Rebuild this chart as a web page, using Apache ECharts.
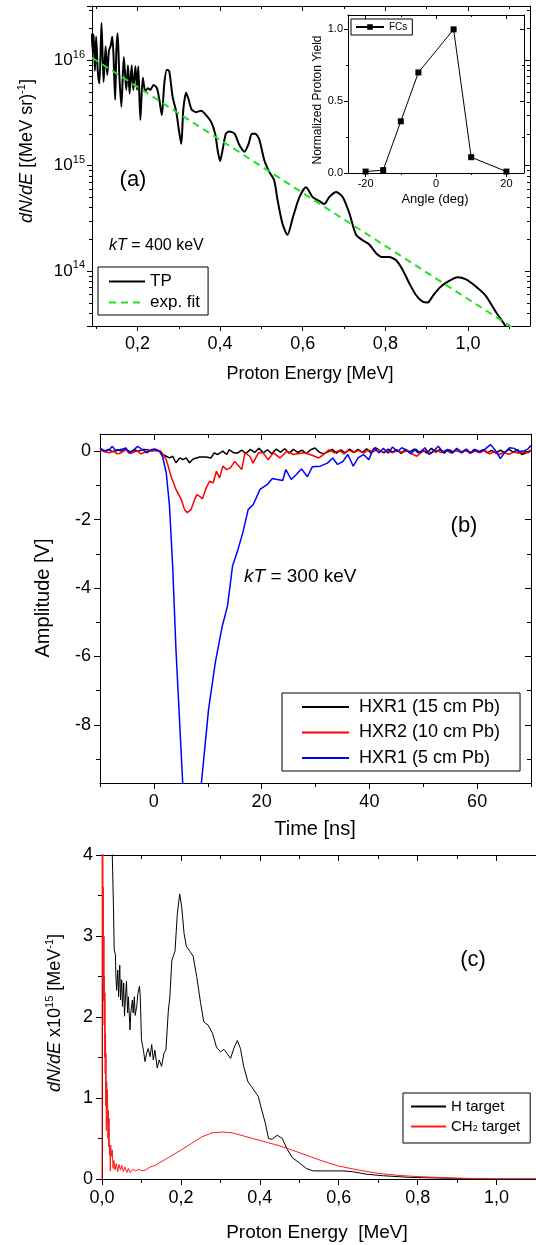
<!DOCTYPE html>
<html>
<head>
<meta charset="utf-8">
<script src="https://cdn.jsdelivr.net/npm/echarts@6/dist/echarts.min.js"></script>
<style>
html, body { margin: 0; padding: 0; background: #fff; }
#chart { width: 536px; height: 1245px; }
</style>
</head>
<body>
<div id="chart"></div>
<script>
// ---- panel (a): proton spectrum, log scale ----
var tpSpectrum = [
  [0.089,1.78e16],[0.092,1.17e16],[0.094,1.74e16],[0.097,7.9e15],[0.100,1.66e16],[0.104,7.8e15],
  [0.108,6.0e15],[0.113,2.24e16],[0.118,6.2e15],[0.123,1.35e16],[0.127,7.2e15],[0.131,1.23e16],
  [0.135,1.35e16],[0.139,1.66e16],[0.142,1.12e16],[0.146,4.2e15],[0.149,1.23e16],[0.152,1.78e16],
  [0.156,7.4e15],[0.161,3.6e15],[0.167,1.07e16],[0.173,5.2e15],[0.177,8.9e15],[0.181,4.8e15],
  [0.186,8.9e15],[0.190,5.2e15],[0.195,8.7e15],[0.199,5.2e15],[0.202,8.7e15],[0.207,2.7e15],
  [0.213,6.8e15],[0.219,5.0e15],[0.225,5.4e15],[0.231,5.2e15],[0.239,5.8e15],[0.247,5.4e15],
  [0.253,4.2e15],[0.259,3.0e15],[0.265,6.0e15],[0.271,8.1e15],[0.277,7.8e15],[0.285,4.5e15],
  [0.294,3.2e15],[0.300,2.2e15],[0.306,1.6e15],[0.311,3.4e15],[0.318,4.9e15],[0.324,4.2e15],
  [0.331,3.4e15],[0.342,3.2e15],[0.354,3.3e15],[0.366,3.0e15],[0.378,2.6e15],[0.388,2.0e15],
  [0.394,1.4e15],[0.400,1.1e15],[0.406,1.4e15],[0.414,2.0e15],[0.422,2.1e15],[0.435,2.0e15],
  [0.447,1.55e15],[0.459,1.35e15],[0.469,1.6e15],[0.477,2.0e15],[0.485,2.0e15],[0.495,1.75e15],
  [0.507,1.12e15],[0.519,8.7e14],[0.531,7.2e14],[0.539,4.7e14],[0.551,2.8e14],[0.563,2.2e14],
  [0.576,3.2e14],[0.592,5.0e14],[0.608,6.2e14],[0.624,5.0e14],[0.640,4.6e14],[0.652,4.3e14],
  [0.664,5.0e14],[0.681,5.6e14],[0.697,5.0e14],[0.713,3.5e14],[0.729,2.2e14],[0.745,1.95e14],
  [0.761,1.78e14],[0.777,1.48e14],[0.793,1.35e14],[0.809,1.35e14],[0.826,1.26e14],[0.842,1.02e14],
  [0.858,7.6e13],[0.874,5.9e13],[0.890,5.1e13],[0.902,5.0e13],[0.915,5.8e13],[0.931,6.9e13],
  [0.951,7.9e13],[0.975,8.7e13],[0.995,8.3e13],[1.019,7.1e13],[1.043,5.8e13],[1.067,4.1e13],
  [1.092,2.95e13],[1.110,2.2e13]
];
var expFit = [[0.09, 1.05e16], [1.12, 2.7e13]];

// inset: Faraday cups
var fcAngle = [-20, -15, -10, -5, 5, 10, 20];
var fcYield = [0.01, 0.02, 0.36, 0.70, 1.00, 0.11, 0.01];

// ---- panel (b): HXR signals ----
var hxr15 = [
  [-10,0.06],[-9.2,0.0],[-8.4,0.05],[-7.6,-0.02],[-6.8,0.04],[-6.0,0.0],[-5.2,0.05],[-4.4,-0.02],
  [-3.6,0.03],[-2.8,0.0],[-2.0,0.05],[-1.2,0.04],[-0.4,0.0],[0.4,0.05],[1.0,0.0],[1.6,-0.1],
  [2.3,-0.15],[2.9,-0.2],[3.5,-0.15],[4.1,-0.34],[4.8,-0.2],[5.4,-0.25],[6.0,-0.2],[6.6,-0.34],
  [7.3,-0.23],[7.9,-0.2],[8.5,-0.17],[9.7,-0.17],[10.6,-0.2],[11.2,-0.05],[11.8,-0.1],[12.8,0.0],
  [13.5,-0.1],[14.0,0.04],[14.7,-0.04],[15.5,-0.06],[16.3,0.03],[17.1,-0.07],[17.9,0.05],[18.7,-0.04],
  [19.5,0.08],[20.3,-0.05],[21.1,0.04],[21.9,-0.08],[22.7,0.06],[23.5,-0.03],[24.3,0.07],[25.1,-0.06],
  [25.9,0.05],[26.7,-0.04],[27.5,0.03],[28.3,-0.07],[29.1,0.04],[29.9,0.09],[30.7,-0.03],[31.5,-0.08],
  [32.3,-0.02],[33.1,0.05],[33.9,-0.06],[34.7,0.04],[35.5,-0.05],[36.3,0.06],[37.1,-0.03],[37.9,0.05],
  [38.7,-0.04],[39.5,0.07],[40.3,-0.06],[41.1,0.1],[41.9,0.02],[42.7,-0.05],[43.5,0.06],[44.3,-0.03],
  [45.1,0.04],[45.9,-0.07],[46.7,0.05],[47.5,-0.02],[48.3,0.06],[49.1,-0.05],[49.9,0.03],[50.7,-0.06],
  [51.5,0.08],[52.3,-0.03],[53.1,0.05],[53.9,-0.06],[54.7,0.04],[55.5,-0.02],[56.3,0.06],[57.1,-0.05],
  [57.9,0.03],[58.7,-0.06],[59.5,0.05],[60.3,-0.03],[61.1,0.04],[61.9,-0.05],[62.7,0.02],[63.5,-0.06],
  [64.3,0.03],[65.1,-0.04],[65.9,0.05],[66.7,-0.03],[67.5,0.04],[68.3,-0.1],[69.1,-0.05],[70,0.03]
];
var hxr10 = [
  [-10,0.04],[-9.2,-0.02],[-8.3,-0.05],[-7.4,0.0],[-6.9,-0.08],[-6.4,-0.07],[-5.8,-0.02],[-5.2,0.04],
  [-4.7,-0.04],[-4.3,-0.07],[-3.6,-0.02],[-3.0,0.0],[-2.4,-0.08],[-1.9,-0.05],[-1.0,0.0],[-0.3,0.02],
  [0.6,0.0],[1.3,0.0],[2.3,-0.25],[3.2,-0.74],[4.1,-1.12],[5.1,-1.42],[5.7,-1.71],[6.2,-1.80],
  [6.9,-1.71],[7.55,-1.42],[8.0,-1.27],[8.5,-1.32],[9.0,-1.40],[9.7,-1.08],[10.35,-0.88],[11.0,-0.93],
  [11.6,-0.59],[12.2,-0.78],[12.8,-0.44],[13.5,-0.54],[14.2,-0.49],[15.0,-0.30],[16.3,-0.54],[16.9,-0.05],
  [17.8,-0.15],[18.4,-0.35],[19.4,-0.05],[20.3,-0.05],[21.2,-0.25],[22.2,-0.05],[23.4,-0.2],[24.7,0.0],
  [25.9,-0.1],[27.8,-0.05],[29.0,-0.1],[30.6,-0.2],[31.5,-0.1],[32.5,0.04],[33.5,-0.05],[34.4,0.02],
  [35.3,-0.08],[36.2,0.03],[37.1,-0.04],[38.0,0.02],[38.9,-0.06],[39.8,0.03],[40.7,-0.02],[41.6,0.05],
  [42.5,-0.03],[43.4,0.01],[44.3,-0.05],[45.2,0.02],[46.1,-0.04],[47.0,0.01],[47.9,-0.08],[48.8,-0.15],
  [49.7,-0.03],[50.6,0.02],[51.5,-0.06],[52.4,0.03],[53.3,-0.04],[54.2,0.02],[55.1,-0.05],[56.0,0.01],
  [56.9,-0.03],[57.8,0.02],[58.7,-0.06],[59.6,0.0],[60.5,-0.05],[61.4,0.03],[62.3,-0.08],[63.2,-0.02],
  [64.1,-0.1],[65.0,-0.04],[65.9,-0.09],[66.8,-0.03],[67.7,-0.06],[68.6,-0.02],[69.5,-0.05],[70,0.02]
];
var hxr5 = [
  [-10,0.09],[-9.5,0.04],[-8.9,0.0],[-8.3,0.04],[-7.7,0.14],[-7.05,0.0],[-6.4,0.04],[-5.8,0.06],
  [-5.2,0.09],[-4.6,-0.05],[-4.0,0.0],[-3.0,0.14],[-2.1,0.04],[-1.3,-0.05],[-0.5,0.04],[0.1,0.06],
  [1.0,0.0],[1.6,-0.15],[2.3,-0.64],[2.9,-1.6],[3.5,-3.4],[4.1,-5.8],[5.35,-9.7],[6.9,-14.0],
  [8.86,-9.64],[10.15,-7.55],[11.4,-6.18],[12.7,-5.11],[13.66,-4.53],[14.6,-3.36],[15.6,-2.88],[16.5,-2.39],
  [17.5,-1.71],[18.45,-1.56],[19.7,-1.12],[21.0,-0.98],[22.0,-0.80],[22.9,-0.83],[23.9,-0.86],[24.5,-0.54],
  [25.5,-0.83],[26.4,-0.69],[27.4,-0.52],[28.5,-0.75],[29.4,-0.46],[30.9,-0.44],[32.2,-0.35],[33.2,-0.20],
  [34.1,-0.39],[35.1,-0.30],[36.0,-0.10],[37.0,-0.44],[37.9,-0.20],[38.9,-0.10],[39.9,-0.25],[40.8,0.09],
  [41.8,-0.05],[42.6,0.08],[43.5,-0.06],[44.3,0.12],[45.2,-0.02],[46.0,0.1],[46.9,0.02],[47.7,-0.08],
  [48.6,0.06],[49.4,-0.05],[50.3,0.1],[51.1,-0.1],[52.0,0.02],[52.8,0.14],[53.7,-0.04],[54.5,0.05],
  [55.4,-0.06],[56.2,0.08],[57.1,-0.03],[58.0,0.06],[58.8,-0.05],[59.7,0.04],[60.5,-0.02],[61.4,0.05],
  [62.5,0.19],[63.4,0.02],[64.3,-0.22],[65.1,-0.05],[66.0,0.1],[66.9,0.08],[67.7,-0.02],[68.6,0.0],
  [69.4,0.06],[70,0.16]
];

// ---- panel (c): spectra for two targets ----
var hTarget = [
  [0.025,4.6],[0.026,4.0],[0.027,3.81],[0.029,3.36],[0.031,2.83],[0.034,2.77],[0.035,2.54],[0.037,2.33],
  [0.040,2.58],[0.042,2.25],[0.045,2.64],[0.047,2.21],[0.050,2.46],[0.052,2.13],[0.055,2.42],[0.057,2.01],
  [0.060,2.29],[0.062,2.44],[0.065,2.05],[0.067,2.25],[0.071,1.84],[0.073,2.05],[0.077,2.21],[0.079,2.05],
  [0.082,2.25],[0.084,2.02],[0.088,2.13],[0.091,2.29],[0.095,2.38],[0.097,2.25],[0.100,1.72],[0.105,1.59],
  [0.109,1.45],[0.113,1.55],[0.117,1.61],[0.122,1.51],[0.126,1.66],[0.130,1.47],[0.134,1.59],[0.140,1.37],
  [0.145,1.47],[0.151,1.39],[0.157,1.55],[0.162,1.59],[0.168,2.07],[0.172,2.25],[0.177,2.70],[0.185,2.81],
  [0.191,3.28],[0.197,3.52],[0.202,3.36],[0.208,3.03],[0.214,2.87],[0.223,2.81],[0.231,2.75],[0.240,2.50],
  [0.250,2.17],[0.258,1.94],[0.269,1.90],[0.280,1.80],[0.290,1.63],[0.300,1.57],[0.309,1.60],[0.317,1.55],
  [0.326,1.49],[0.334,1.61],[0.343,1.71],[0.351,1.61],[0.359,1.39],[0.370,1.20],[0.379,1.14],[0.383,1.12],
  [0.396,1.02],[0.405,0.85],[0.414,0.69],[0.422,0.50],[0.431,0.49],[0.444,0.54],[0.457,0.50],[0.470,0.36],
  [0.483,0.26],[0.500,0.20],[0.518,0.13],[0.535,0.10],[0.565,0.10],[0.609,0.10],[0.635,0.09],[0.669,0.06],
  [0.713,0.04],[0.782,0.02],[0.869,0.01],[1.0,0.0],[1.1,0.0]
];
var ch2Target = [
  [0,0],[0.0005,4.6],[0.0015,3.0],[0.002,4.2],[0.003,2.4],[0.0035,3.6],[0.004,2.2],[0.005,3.0],
  [0.0055,1.9],[0.006,2.5],[0.007,1.5],[0.0075,2.3],[0.008,1.3],[0.009,1.8],[0.0095,0.9],[0.010,1.55],
  [0.011,0.6],[0.012,1.2],[0.013,0.7],[0.014,1.1],[0.015,0.5],[0.016,0.85],[0.017,0.4],[0.018,0.75],
  [0.019,0.3],[0.020,0.4],[0.021,0.1],[0.022,0.42],[0.024,0.28],[0.026,0.36],[0.028,0.13],[0.030,0.23],
  [0.033,0.11],[0.036,0.19],[0.040,0.09],[0.043,0.18],[0.047,0.11],[0.050,0.17],[0.054,0.09],[0.058,0.15],
  [0.063,0.08],[0.067,0.13],[0.071,0.08],[0.078,0.12],[0.085,0.10],[0.093,0.12],[0.102,0.10],[0.110,0.11],
  [0.123,0.15],[0.136,0.17],[0.149,0.21],[0.167,0.26],[0.184,0.31],[0.201,0.36],[0.227,0.44],[0.253,0.52],
  [0.279,0.57],[0.305,0.58],[0.33,0.57],[0.36,0.53],[0.39,0.49],[0.42,0.45],[0.45,0.41],[0.48,0.36],
  [0.52,0.29],[0.56,0.22],[0.60,0.16],[0.65,0.11],[0.70,0.07],[0.75,0.045],[0.80,0.03],[0.90,0.01],
  [1.0,0.0],[1.1,0.0]
];

// ---- tick positions ----
var aMajorX = [0.2, 0.4, 0.6, 0.8, 1.0];
var aMinorX = [0.1, 0.3, 0.5, 0.7, 0.9, 1.1];
var aMinorY = [4e13,5e13,6e13,7e13,8e13,9e13,2e14,3e14,4e14,5e14,6e14,7e14,8e14,9e14,
               2e15,3e15,4e15,5e15,6e15,7e15,8e15,9e15,2e16,3e16];
var inMajorX = [-20, 0, 20], inMinorX = [-10, 10];
var inMajorY = [0, 0.5, 1.0], inMinorY = [0.25, 0.75];
var bMajorX = [0, 20, 40, 60], bMinorX = [-10, 10, 30, 50, 70];
var bMajorY = [0, -2, -4, -6, -8], bMinorY = [-1, -3, -5, -7, -9];
var cMajorX = [0, 0.2, 0.4, 0.6, 0.8, 1.0], cMinorX = [0.1, 0.3, 0.5, 0.7, 0.9];
var cMajorY = [0, 1, 2, 3, 4], cMinorY = [0.5, 1.5, 2.5, 3.5];

var FONT = '"Liberation Sans", Arial, Helvetica, sans-serif';

var grids = [
  {left: 92, top: 6, width: 438, height: 320},     // (a)
  {left: 348, top: 15, width: 176, height: 158},   // inset
  {left: 100, top: 434, width: 431, height: 349},  // (b)
  {left: 102, top: 855, width: 434, height: 324}   // (c)
];
grids.forEach(function (g) { g.outerBoundsMode = 'none'; g.containLabel = false; });

var xAxes = [], yAxes = [];

// builds a closed frame: main axis with labels + minor, mirrored axis with inner ticks
function frame(list, dim, gi, type, min, max, major, minor, label, len, noMirror) {
  var near = dim === 'x' ? 'bottom' : 'left';
  var far = dim === 'x' ? 'top' : 'right';
  function ax(pos, showLine, ticks, tlen, inside, lab) {
    var a = {
      type: type, gridIndex: gi, position: pos, min: min, max: max,
      splitLine: {show: false},
      axisLine: {show: showLine, onZero: false, lineStyle: {color: '#000', width: 1}},
      axisTick: {show: true, inside: inside, length: tlen, lineStyle: {color: '#000', width: 1}},
      axisLabel: lab || {show: false}
    };
    if (ticks) a.axisTick.customValues = ticks;
    if (type === 'log') a.logBase = 10;
    return a;
  }
  var first = list.length;
  list.push(ax(near, true, major, len, false, label));
  if (!noMirror) list.push(ax(far, true, major, len, true, null));
  if (minor) {
    list.push(ax(near, false, minor, Math.round(len * 0.6), false, null));
    if (!noMirror) list.push(ax(far, false, minor, Math.round(len * 0.6), true, null));
  }
  return first;
}

function lab(values, fmt, size, margin) {
  var o = {show: true, formatter: fmt, fontSize: size, color: '#000', fontFamily: FONT, margin: margin};
  if (values) o.customValues = values;
  return o;
}
function comma(v) { return v.toFixed(1).replace('.', ','); }
function dot(v) { return v.toFixed(1); }
function plain(v) { return String(v); }
function pow10(v) {
  var e = Math.round(Math.log(v) / Math.LN10);
  if (Math.abs(Math.log(v) / Math.LN10 - e) > 1e-6) return '';
  return '{b|10}{s|' + e + '}';
}

var axA_x = frame(xAxes, 'x', 0, 'value', 0.09, 1.15, aMajorX, aMinorX, lab(aMajorX, comma, 18, 9), 5);
var logLab = lab(null, pow10, 17, 7);
logLab.rich = {
  b: {fontSize: 17, fontFamily: FONT, color: '#000', lineHeight: 22},
  s: {fontSize: 11, fontFamily: FONT, color: '#000', verticalAlign: 'top', lineHeight: 12}
};
var axA_y = frame(yAxes, 'y', 0, 'log', 3e13, 3.25e16, null, null, logLab, 5);
var axI_x = frame(xAxes, 'x', 1, 'value', -25, 25, inMajorX, inMinorX, lab(inMajorX, plain, 11, 5), 4);
var axI_y = frame(yAxes, 'y', 1, 'value', 0, 1.1, inMajorY, inMinorY, lab(inMajorY, dot, 11, 5), 4);
var axB_x = frame(xAxes, 'x', 2, 'value', -10, 70, bMajorX, bMinorX, lab(bMajorX, plain, 18, 10), 6);
var axB_y = frame(yAxes, 'y', 2, 'value', -9.7, 0.5, bMajorY, bMinorY, lab(bMajorY, plain, 18, 9), 6);
var axC_x = frame(xAxes, 'x', 3, 'value', 0, 1.1, cMajorX, cMinorX, lab(cMajorX, comma, 18, 10), 6);
// right edge of panel (c) lies outside the picture, so no mirrored right axis
var axC_y = frame(yAxes, 'y', 3, 'value', 0, 4, cMajorY, cMinorY, lab(cMajorY, plain, 18, 9), 6, true);

function lineSeries(name, data, xi, yi, color, width, extra) {
  var s = {
    name: name, type: 'line', data: data, xAxisIndex: xi, yAxisIndex: yi,
    symbol: 'none', showSymbol: false, clip: true, silent: true,
    lineStyle: {color: color, width: width}, itemStyle: {color: color},
    emphasis: {disabled: true}
  };
  if (extra) Object.keys(extra).forEach(function (k) { s[k] = extra[k]; });
  return s;
}

var series = [
  lineSeries('TP', tpSpectrum, axA_x, axA_y, '#000', 2, {smooth: 0.25}),
  lineSeries('exp. fit', expFit, axA_x, axA_y, '#22e022', 2),
  lineSeries('FCs', fcAngle.map(function (a, i) { return [a, fcYield[i]]; }), axI_x, axI_y, '#000', 1,
    {symbol: 'rect', symbolSize: 6, showSymbol: true}),
  lineSeries('HXR1 (15 cm Pb)', hxr15, axB_x, axB_y, '#000', 1.5),
  lineSeries('HXR2 (10 cm Pb)', hxr10, axB_x, axB_y, '#ff0000', 1.5),
  lineSeries('HXR1 (5 cm Pb)', hxr5, axB_x, axB_y, '#0000ff', 1.5),
  lineSeries('H target', hTarget, axC_x, axC_y, '#000', 1),
  lineSeries('CH2 target', ch2Target, axC_x, axC_y, '#ff1a1a', 1)
];
series[1].lineStyle.type = [7, 5];

function legendBox(names, left, top, opts) {
  var l = {
    data: names, orient: 'vertical', left: left, top: top,
    itemWidth: opts.w, itemHeight: opts.h, itemGap: opts.gap,
    padding: opts.pad, borderColor: '#000', borderWidth: 1, backgroundColor: '#fff',
    selectedMode: false, inactiveColor: '#000',
    textStyle: {fontSize: opts.fs, lineHeight: opts.lh, color: '#000', fontFamily: FONT,
      padding: [0, 0, 0, opts.tg || 0]}
  };
  // lines only: hide the marker that ECharts puts on a line icon
  if (opts.noMarker) l.itemStyle = {opacity: 0};
  return l;
}
var legends = [
  legendBox(['TP', 'exp. fit'], 98, 267, {w: 36, h: 14, gap: 4, pad: [6, 8, 4, 10], fs: 17, lh: 16, noMarker: true}),
  legendBox(['FCs'], 351, 19, {w: 28, h: 7, gap: 2, pad: [3, 5, 3, 4], fs: 10, lh: 9}),
  legendBox(['HXR1 (15 cm Pb)', 'HXR2 (10 cm Pb)', 'HXR1 (5 cm Pb)'], 282, 693,
    {w: 47, h: 14, gap: 7.5, pad: [5, 20, 4, 19], fs: 18, lh: 18, tg: 5, noMarker: true}),
  legendBox(['H target', 'CH2 target'], 403, 1093, {w: 35, h: 12, gap: 5, pad: [6, 10, 9, 7], fs: 15, lh: 14, noMarker: true})
];
legends[3].formatter = function (n) { return n === 'CH2 target' ? '{t|CH}{u|2}{t| target}' : '{t|' + n + '}'; };
legends[3].textStyle.rich = {
  t: {fontSize: 15, fontFamily: FONT, color: '#000', lineHeight: 14},
  u: {fontSize: 9, fontFamily: FONT, color: '#000', verticalAlign: 'bottom', lineHeight: 14}
};

function txt(x, y, text, size, opts) {
  opts = opts || {};
  var rich = {
    i: {fontSize: size, fontFamily: FONT, fontStyle: 'italic', fill: '#000', lineHeight: size + 4},
    n: {fontSize: size, fontFamily: FONT, fill: '#000', lineHeight: size + 4},
    s: {fontSize: Math.round(size * 0.62), fontFamily: FONT, fill: '#000', verticalAlign: 'top', lineHeight: size + 4}
  };
  return {
    type: 'text', x: x, y: y, rotation: opts.rot || 0, silent: true,
    style: {text: text, fontSize: size, fontFamily: FONT, fill: '#000',
      align: opts.align || 'center', verticalAlign: 'middle', rich: rich}
  };
}
var texts = [
  txt(27, 151, '{i|dN/dE}{n| [(MeV sr)}{s|-1}{n|]}', 18, {rot: Math.PI / 2}),
  txt(310, 374, '{n|Proton Energy [MeV]}', 18),
  txt(133, 180, '{n|(a)}', 22),
  txt(109, 246, '{i|kT}{n| = 400 keV}', 16, {align: 'left'}),
  txt(318, 100, '{n|Normalized Proton Yield}', 12, {rot: Math.PI / 2}),
  txt(435, 199, '{n|Angle (deg)}', 13),
  txt(43, 598, '{n|Amplitude [V]}', 20, {rot: Math.PI / 2}),
  txt(315, 829, '{n|Time [ns]}', 20),
  txt(464, 526, '{n|(b)}', 22),
  txt(244, 577, '{i|kT}{n| = 300 keV}', 19, {align: 'left'}),
  txt(55, 1013, '{i|dN/dE}{n| x10}{s|15}{n| [MeV}{s|-1}{n|]}', 18, {rot: Math.PI / 2}),
  txt(317, 1233, '{n|Proton Energy  [MeV]}', 19),
  txt(473, 960, '{n|(c)}', 22)
];

var option = {
  animation: false,
  backgroundColor: '#fff',
  grid: grids,
  xAxis: xAxes,
  yAxis: yAxes,
  legend: legends,
  series: series,
  graphic: {elements: texts}
};

var chart = echarts.init(document.getElementById('chart'));
chart.setOption(option);

// log-axis minor ticks (2..9 x 10^n) on both sides of panel (a)
var ga = grids[0], ticks = [];
aMinorY.forEach(function (v) {
  var y = Math.round(chart.convertToPixel({yAxisIndex: axA_y}, v)) + 0.5;
  ticks.push({type: 'line', silent: true, shape: {x1: ga.left - 3, y1: y, x2: ga.left, y2: y},
    style: {stroke: '#000', lineWidth: 1}});
  ticks.push({type: 'line', silent: true, shape: {x1: ga.left + ga.width - 3, y1: y, x2: ga.left + ga.width, y2: y},
    style: {stroke: '#000', lineWidth: 1}});
});
chart.setOption({graphic: {elements: texts.concat(ticks)}});
</script>
</body>
</html>
